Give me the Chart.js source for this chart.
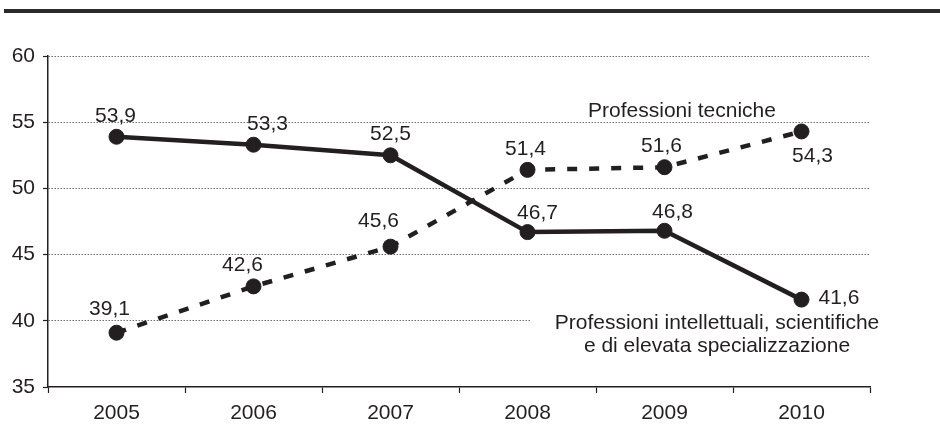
<!DOCTYPE html>
<html><head><meta charset="utf-8">
<script src="https://cdn.jsdelivr.net/npm/chart.js@4/dist/chart.umd.min.js"></script>
<style>
html,body{margin:0;padding:0;background:#fff;}
#wrap{position:relative;width:940px;height:445px;}
#topline{position:absolute;left:4px;right:0;top:9px;height:4px;background:#2b2b2b;}
canvas{position:absolute;left:0;top:0;}
</style></head><body>
<div id="wrap"><canvas id="c" width="940" height="445"></canvas><div id="topline"></div></div>
<script>
const years = ['2005','2006','2007','2008','2009','2010'];
const intellettuali = [53.9, 53.3, 52.5, 46.7, 46.8, 41.6];
const tecniche = [39.1, 42.6, 45.6, 51.4, 51.6, 54.3];
const yMin = 35, yMax = 60, yStep = 5;
const nameTecniche = 'Professioni tecniche';
const nameIntellettuali = ['Professioni intellettuali, scientifiche', 'e di elevata specializzazione'];

const INK = '#231f20';
const FONT = '"Liberation Sans", Arial, sans-serif';
const FS = 21;
// value label offsets relative to each point [dx, dy, align]
const offsets = [
  [[-1,-21],[14,-21],[0,-21],[10,-19],[8,-19],[17,-1,'left']],
  [[-7,-24],[-11,-21],[-12,-25],[-2,-21],[-3,-21],[11,25]]
];
const fmt = v => v.toFixed(1).replace('.', ',');

const labelsPlugin = {
  id: 'labels',
  beforeDatasetsDraw(chart) {
    const ctx = chart.ctx;
    ctx.save();
    ctx.fillStyle = '#fff';
    ctx.fillRect(530, 308, 346, 50);
    ctx.restore();
  },
  afterDatasetsDraw(chart) {
    const ctx = chart.ctx;
    ctx.save();
    ctx.font = FS + 'px ' + FONT;
    ctx.fillStyle = INK;
    ctx.textBaseline = 'middle';
    chart.data.datasets.forEach((ds, di) => {
      const meta = chart.getDatasetMeta(di);
      meta.data.forEach((pt, i) => {
        const o = offsets[di][i];
        ctx.textAlign = o[2] || 'center';
        ctx.fillText(fmt(ds.data[i]), pt.x + o[0], pt.y + o[1]);
      });
    });
    ctx.textAlign = 'center';
    ctx.fillText(nameTecniche, 682, 111);
    ctx.fillText(nameIntellettuali[0], 717, 323);
    ctx.fillText(nameIntellettuali[1], 717, 346);
    ctx.restore();
  }
};

new Chart(document.getElementById('c'), {
  type: 'line',
  data: {
    labels: years,
    datasets: [
      {
        label: nameIntellettuali.join(' '),
        data: intellettuali,
        borderColor: INK, backgroundColor: INK,
        borderWidth: 4.5, tension: 0,
        pointRadius: 7.5, pointHoverRadius: 7.5, pointBorderWidth: 1,
        pointBackgroundColor: INK, pointBorderColor: INK
      },
      {
        label: nameTecniche,
        data: tecniche,
        borderColor: INK, backgroundColor: INK,
        borderWidth: 4.5, tension: 0, borderDash: [10, 12],
        pointRadius: 7.5, pointHoverRadius: 7.5, pointBorderWidth: 1,
        pointBackgroundColor: INK, pointBorderColor: INK
      }
    ]
  },
  options: {
    responsive: false, animation: false,
    layout: { padding: { top: 56, right: 70, left: 0, bottom: 0 } },
    plugins: { legend: { display: false }, tooltip: { enabled: false } },
    scales: {
      x: {
        offset: true,
        afterFit(s) { s.height = 58; },
        grid: { offset: true, drawOnChartArea: false, drawTicks: true, tickLength: 6, tickColor: INK, tickWidth: 1.2 },
        border: { color: INK, width: 1.5 },
        ticks: { color: INK, font: { family: FONT, size: FS }, padding: 8, maxRotation: 0 }
      },
      y: {
        min: yMin, max: yMax,
        afterFit(s) { s.width = 48; },
        grid: {
          color: c => (c.tick && c.tick.value === yMin) ? 'rgba(0,0,0,0)' : '#6f6f6f',
          lineWidth: 1, drawTicks: true, tickLength: 5, tickColor: INK, tickBorderDash: [], tickWidth: 1.2
        },
        border: { color: INK, width: 1.5, dash: [1.5, 1.5] },
        ticks: { stepSize: yStep, color: INK, font: { family: FONT, size: FS }, padding: 8 }
      }
    }
  },
  plugins: [labelsPlugin]
});
</script>
</body></html>
